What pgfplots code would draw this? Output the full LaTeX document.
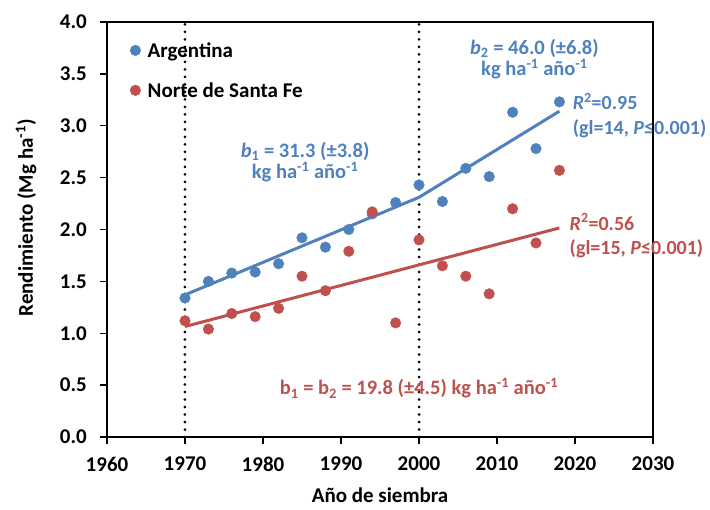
\documentclass[border=0pt]{standalone}
\usepackage{fontspec}
\setmainfont{Carlito}
\usepackage{pgfplots}
\usepackage{pgfplotstable}
\pgfplotsset{compat=1.18}
\pgfplotsset{dotlegend/.style={legend image code/.code={\draw[##1] plot coordinates {(0pt,1pt)};}}}
\definecolor{cblue}{RGB}{79,129,189}
\definecolor{cred}{RGB}{192,80,77}
\pgfplotstableread{
year y
1970 1.34
1973 1.50
1976 1.58
1979 1.59
1982 1.67
1985 1.92
1988 1.83
1991 2.00
1994 2.15
1997 2.26
2000 2.43
2003 2.27
2006 2.59
2009 2.51
2012 3.13
2015 2.78
2018 3.23
}\argentina
\pgfplotstableread{
year y
1970 1.12
1973 1.04
1976 1.19
1979 1.16
1982 1.24
1985 1.55
1988 1.41
1991 1.79
1994 2.17
1997 1.10
2000 1.90
2003 1.65
2006 1.55
2009 1.38
2012 2.20
2015 1.87
2018 2.57
}\norte
\begin{document}
\fontsize{21}{25}\selectfont\bfseries
\begin{tikzpicture}
\begin{axis}[
  scale only axis, width=546pt, height=415pt,
  xmin=1960, xmax=2030, ymin=0, ymax=4,
  xtick={1960,1970,...,2030}, ytick={0,0.5,1,1.5,2,2.5,3,3.5,4},
  tick align=outside, major tick length=7pt,
  xtick pos=bottom, ytick pos=left,
  axis line style={line width=1.3pt, black},
  major tick style={line width=1.3pt, black},
  /pgf/number format/assume math mode=true,
  xticklabel style={/pgf/number format/1000 sep={}, yshift=-6pt},
  yticklabel style={/pgf/number format/fixed, /pgf/number format/fixed zerofill, /pgf/number format/precision=1, xshift=-6pt},
  xlabel={Año de siembra},
  ylabel={Rendimiento (Mg ha\textsuperscript{-1})},
  xlabel style={at={(axis description cs:0.5,-0.14)}, anchor=center},
  ylabel style={at={(axis description cs:-0.148,0.528)}, anchor=center},
  clip=false,
  legend style={draw=none, fill=none, at={(axis description cs:0.042,0.956)}, anchor=north west, inner sep=0pt, row sep=18pt,
    /tikz/every odd column/.append style={column sep=5pt}},
  legend cell align=left,
]
\addplot[black, line width=3pt, line cap=round, dash pattern=on 0pt off 7.5pt, forget plot] coordinates {(1970,0) (1970,4)};
\addplot[black, line width=3pt, line cap=round, dash pattern=on 0pt off 7.5pt, forget plot] coordinates {(2000,0) (2000,4)};
\addplot[only marks, mark=*, mark size=5.3pt, color=cblue, mark options={fill=cblue, draw=cblue}, dotlegend] table[x=year,y=y] {\argentina};
\addlegendentry{Argentina}
\addplot[only marks, mark=*, mark size=5.3pt, color=cred, mark options={fill=cred, draw=cred}, dotlegend] table[x=year,y=y] {\norte};
\addlegendentry{Norte de Santa Fe}
\addplot[cblue, line width=3pt, forget plot] coordinates {(1970,1.37) (2000,2.31) (2018,3.14)};
\addplot[cred, line width=3pt, forget plot] coordinates {(1970,1.065) (2018,2.015)};
\node[cblue, align=center, font=\fontsize{20.5}{21.5}\selectfont\bfseries] at (axis cs:1985.4,2.65)
  {\textit{b}\textsubscript{1} = 31.3 (±3.8)\\kg ha\textsuperscript{-1} año\textsuperscript{-1}};
\node[cblue, align=center, font=\fontsize{20.5}{21.5}\selectfont\bfseries] at (axis cs:2014.8,3.643)
  {\textit{b}\textsubscript{2} = 46.0 (±6.8)\\kg ha\textsuperscript{-1} año\textsuperscript{-1}};
\node[cblue, align=left, anchor=west, inner sep=0pt, font=\fontsize{20}{24.5}\selectfont\bfseries] at (axis cs:2019.7,3.10)
  {\textit{R}\textsuperscript{2}=0.95\\(gl=14, \textit{P}≤0.001)};
\node[cred, align=left, anchor=west, inner sep=0pt, font=\fontsize{20}{24.5}\selectfont\bfseries] at (axis cs:2019.3,1.937)
  {\textit{R}\textsuperscript{2}=0.56\\(gl=15, \textit{P}≤0.001)};
\node[cred, font=\fontsize{20.5}{24}\selectfont\bfseries] at (axis cs:2000,0.47)
  {b\textsubscript{1} = b\textsubscript{2} = 19.8 (±4.5) kg ha\textsuperscript{-1} año\textsuperscript{-1}};
\end{axis}
\path (current axis.south west) ++(-107pt,-69pt) rectangle ++(710pt,506pt);
\end{tikzpicture}
\end{document}
